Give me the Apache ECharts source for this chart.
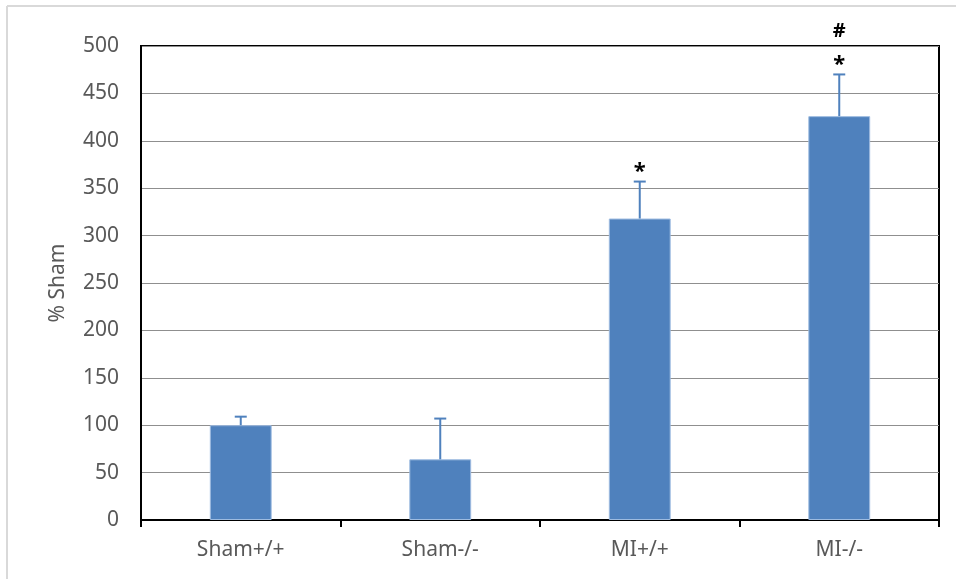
<!DOCTYPE html>
<html>
<head>
<meta charset="utf-8">
<script src="https://cdn.jsdelivr.net/npm/echarts@6/dist/echarts.min.js"></script>
<style>
  html, body { margin: 0; padding: 0; background: #ffffff; }
  #chart { width: 956px; height: 579px; }
</style>
</head>
<body>
<div id="chart"></div>
<script>
// Groups and measured values (% of sham)
const categories = ['Sham+/+', 'Sham-/-', 'MI+/+', 'MI-/-'];
const means = [100, 64, 318, 426];
const errorTops = [109, 107, 357, 470];
const significance = ['', '', '*', '*'];
const significance2 = ['', '', '', '#'];
const yTicks = { min: 0, max: 500, interval: 50 };

const barColor = '#4F81BD';
const textGrey = '#595959';
const fontFamily = '"Noto Sans", "Liberation Sans", sans-serif';

const chart = echarts.init(document.getElementById('chart'), null, { renderer: 'canvas' });

const errorData = categories.map((c, i) => [i, means[i], errorTops[i]]);
const markData = categories.map((c, i) => [i, errorTops[i]]);

chart.setOption({
  animation: false,
  backgroundColor: '#ffffff',
  grid: {
    left: 141, right: 17, top: 46, bottom: 59,
    show: true, borderColor: '#000000', borderWidth: 2, backgroundColor: 'transparent'
  },
  graphic: [
    // light frame around the chart area
    { type: 'line', shape: { x1: 7, y1: 6, x2: 956, y2: 6 }, style: { stroke: '#d9d9d9', lineWidth: 2 } },
    { type: 'line', shape: { x1: 7, y1: 6, x2: 7, y2: 579 }, style: { stroke: '#d9d9d9', lineWidth: 2 } }
  ],
  xAxis: {
    type: 'category',
    data: categories,
    boundaryGap: true,
    axisLine: { show: true, lineStyle: { color: '#000000', width: 2 } },
    axisTick: { show: true, length: 7, lineStyle: { color: '#000000', width: 2 } },
    axisLabel: { color: textGrey, fontSize: 21, fontFamily: fontFamily, margin: 20 },
    splitLine: { show: false }
  },
  yAxis: {
    type: 'value',
    min: yTicks.min, max: yTicks.max, interval: yTicks.interval,
    name: '% Sham',
    nameLocation: 'middle',
    nameGap: 72,
    nameTextStyle: { color: textGrey, fontSize: 21, fontFamily: fontFamily },
    axisLine: { show: true, lineStyle: { color: '#000000', width: 2 } },
    axisTick: { show: false },
    axisLabel: { color: textGrey, fontSize: 21, fontFamily: fontFamily, margin: 22 },
    splitLine: { show: true, lineStyle: { color: '#8f8f8f', width: 1 } }
  },
  series: [
    {
      type: 'bar',
      data: means,
      barWidth: '31%',
      itemStyle: { color: barColor, borderColor: '#9dbbe0', borderWidth: 1 },
      z: 2
    },
    {
      type: 'custom',
      data: errorData,
      z: 3,
      renderItem: function (params, api) {
        const x = api.value(0);
        const base = api.coord([x, api.value(1)]);
        const top = api.coord([x, api.value(2)]);
        const half = 6;
        return {
          type: 'group',
          children: [
            { type: 'line', shape: { x1: base[0], y1: base[1], x2: top[0], y2: top[1] },
              style: { stroke: barColor, lineWidth: 2 } },
            { type: 'line', shape: { x1: top[0] - half, y1: top[1], x2: top[0] + half, y2: top[1] },
              style: { stroke: barColor, lineWidth: 2 } }
          ]
        };
      }
    },
    {
      type: 'custom',
      data: markData,
      z: 4,
      renderItem: function (params, api) {
        const i = params.dataIndex;
        const p = api.coord([api.value(0), api.value(1)]);
        const children = [];
        if (significance[i]) {
          children.push({ type: 'text', style: {
            text: significance[i], x: p[0], y: p[1] + 1,
            align: 'center', verticalAlign: 'bottom',
            fill: '#000000', font: 'bold 22px ' + fontFamily } });
        }
        if (significance2[i]) {
          children.push({ type: 'text', style: {
            text: significance2[i], x: p[0], y: p[1] - 33,
            align: 'center', verticalAlign: 'bottom',
            fill: '#000000', font: 'bold 20px ' + fontFamily } });
        }
        return { type: 'group', children: children };
      }
    }
  ]
});
</script>
</body>
</html>
